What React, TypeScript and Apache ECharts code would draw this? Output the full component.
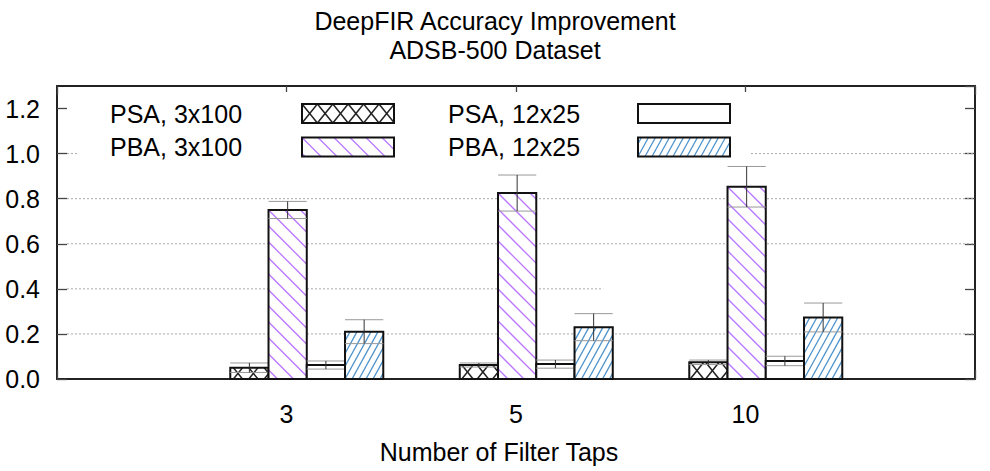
import React, { useEffect, useRef } from "react";
import * as echarts from "echarts";

// ---------- data ----------
const categories = ["3", "5", "10"];
const seriesNames = ["PSA, 3x100", "PBA, 3x100", "PSA, 12x25", "PBA, 12x25"];
const psa3x100 = [0.05, 0.062, 0.074];
const psa3x100Err = [0.021, 0.009, 0.01];
const pba3x100 = [0.75, 0.825, 0.853];
const pba3x100Err = [0.038, 0.08, 0.09];
const psa12x25 = [0.062, 0.066, 0.08];
const psa12x25Err = [0.018, 0.018, 0.021];
const pba12x25 = [0.21, 0.23, 0.273];
const pba12x25Err = [0.053, 0.06, 0.064];
const yTicks = [0, 0.2, 0.4, 0.6, 0.8, 1.0, 1.2];
const gridValues = [0.2, 0.4, 0.6, 0.8, 1.0];
const gridEnds = [3, 1.38, 3, 3, 3];

const values = [psa3x100, pba3x100, psa12x25, pba12x25];
const errors = [psa3x100Err, pba3x100Err, psa12x25Err, pba12x25Err];

// ---------- style ----------
const FONT = "'Liberation Sans', Arial, Helvetica, sans-serif";
const FS = 25;
const X_MIN = -1;
const X_MAX = 3;
const BAR_OFFSET = -0.245;
const BAR_W = 1 / 6;

type Pat = { kind: "cross" | "purple" | "none" | "blue" };
const patterns: Pat[] = [{ kind: "cross" }, { kind: "purple" }, { kind: "none" }, { kind: "blue" }];

function family(
  x: number, y: number, w: number, h: number,
  dx: number, dy: number, spacing: number,
  ax: number, ay: number, color: string, lw: number
) {
  const out: any[] = [];
  const corners = [[x, y], [x + w, y], [x, y + h], [x + w, y + h]];
  const xi = corners.map(([cx, cy]) => cx - ((cy - ay) * dx) / dy);
  const kMin = Math.floor((Math.min(...xi) - ax) / spacing) - 1;
  const kMax = Math.ceil((Math.max(...xi) - ax) / spacing) + 1;
  for (let k = kMin; k <= kMax; k++) {
    const x0 = ax + k * spacing;
    let tmin = -Infinity;
    let tmax = Infinity;
    if (dx !== 0) {
      const t1 = (x - x0) / dx;
      const t2 = (x + w - x0) / dx;
      tmin = Math.max(tmin, Math.min(t1, t2));
      tmax = Math.min(tmax, Math.max(t1, t2));
    } else if (x0 < x || x0 > x + w) continue;
    const t3 = (y - ay) / dy;
    const t4 = (y + h - ay) / dy;
    tmin = Math.max(tmin, Math.min(t3, t4));
    tmax = Math.min(tmax, Math.max(t3, t4));
    if (tmax - tmin <= 0.3) continue;
    out.push({
      type: "line",
      shape: { x1: x0 + tmin * dx, y1: ay + tmin * dy, x2: x0 + tmax * dx, y2: ay + tmax * dy },
      style: { stroke: color, lineWidth: lw },
      silent: true,
    });
  }
  return out;
}

function hatch(kind: string, x: number, y: number, w: number, h: number) {
  if (kind === "cross") {
    const s = 15.4;
    const ax = x + s / 2;
    const ay = y + h / 2;
    return [
      ...family(x, y, w, h, 0.81, 1, s, ax, ay, "#222", 1.5),
      ...family(x, y, w, h, -0.81, 1, s, ax, ay, "#222", 1.5),
    ];
  }
  if (kind === "purple") {
    return family(x, y, w, h, 1, 1, 16, x, y, "#bb77ff", 1.3);
  }
  if (kind === "blue") {
    return family(x, y, w, h, 0.55, -1, 7, x, y + h, "#4d93cc", 1.3);
  }
  return [];
}

function barSeries(j: number) {
  return {
    type: "custom",
    name: seriesNames[j],
    coordinateSystem: "cartesian2d",
    xAxisIndex: 0,
    yAxisIndex: 0,
    z: 5,
    encode: { x: 0, y: 1 },
    data: categories.map((_, i) => [i, values[j][i], errors[j][i]]),
    renderItem: (params: any, api: any) => {
      const i = api.value(0);
      const v = api.value(1);
      const e = api.value(2);
      const left = i + BAR_OFFSET + j * BAR_W;
      const p0 = api.coord([left, 0]);
      const p1 = api.coord([left + BAR_W, v]);
      const x = p0[0];
      const w = p1[0] - p0[0];
      const yTop = p1[1];
      const h = p0[1] - p1[1];
      const cx = x + w / 2;
      const ePlus = api.coord([left, v + e])[1];
      const eMinus = api.coord([left, Math.max(0, v - e)])[1];
      const children: any[] = [
        { type: "rect", shape: { x, y: yTop, width: w, height: h }, style: { fill: "#fff", stroke: null } },
        ...hatch(patterns[j].kind, x, yTop, w, h),
        { type: "rect", shape: { x, y: yTop, width: w, height: h }, style: { fill: "none", stroke: "#111", lineWidth: 2 } },
        { type: "line", shape: { x1: x, y1: ePlus, x2: x + w, y2: ePlus }, style: { stroke: "#999", lineWidth: 1 } },
        { type: "line", shape: { x1: x, y1: eMinus, x2: x + w, y2: eMinus }, style: { stroke: "#999", lineWidth: 1 } },
        { type: "line", shape: { x1: cx, y1: ePlus, x2: cx, y2: eMinus }, style: { stroke: "#333", lineWidth: 1 } },
      ];
      return { type: "group", children };
    },
  };
}

const gridSeries = {
  type: "custom",
  coordinateSystem: "cartesian2d",
  xAxisIndex: 0,
  yAxisIndex: 0,
  z: 1,
  silent: true,
  encode: { x: 1, y: 0 },
  data: gridValues.map((v, i) => [v, gridEnds[i]]),
  renderItem: (params: any, api: any) => {
    const v = api.value(0);
    const end = api.value(1);
    const a = api.coord([X_MIN, v]);
    const b = api.coord([end, v]);
    return {
      type: "line",
      shape: { x1: a[0] + 10, y1: a[1], x2: b[0], y2: b[1] },
      style: { stroke: "#a8a8a8", lineWidth: 1, lineDash: [2, 2] },
    };
  },
};

// legend layout (pixels)
const legendRows = [113.5, 147];
const legendTextX = [110, 448];
const legendSwatchX = [302, 638];
const SW_W = 92;
const SW_H = 19;

function legendGraphics() {
  const els: any[] = [
    { type: "rect", z: 3, shape: { x: 78, y: 92, width: 671, height: 73 }, style: { fill: "#fff" }, silent: true },
  ];
  const place = [
    [0, 0],
    [0, 1],
    [1, 0],
    [1, 1],
  ];
  seriesNames.forEach((name, j) => {
    const [c, r] = place[j];
    const cy = legendRows[r];
    els.push({
      type: "text",
      z: 4,
      x: legendTextX[c],
      y: cy,
      style: { text: name, fontFamily: FONT, fontSize: FS, fill: "#000", verticalAlign: "middle", align: "left" },
    });
    const sx = legendSwatchX[c];
    const sy = cy - SW_H / 2;
    els.push({ type: "rect", z: 4, shape: { x: sx, y: sy, width: SW_W, height: SW_H }, style: { fill: "#fff" } });
    hatch(patterns[j].kind, sx, sy, SW_W, SW_H).forEach((l) => els.push({ ...l, z: 4 }));
    els.push({
      type: "rect",
      z: 4,
      shape: { x: sx, y: sy, width: SW_W, height: SW_H },
      style: { fill: "none", stroke: "#111", lineWidth: 2 },
    });
  });
  els.push({
    type: "text",
    z: 4,
    x: 499,
    y: 452,
    style: { text: "Number of Filter Taps", fontFamily: FONT, fontSize: FS, fill: "#000", align: "center", verticalAlign: "middle" },
  });
  return els;
}

const axisLineStyle = { color: "#222", width: 2 };
const tickStyle = { color: "#444", width: 1.3 };

export default function App() {
  const ref = useRef<HTMLDivElement>(null);
  useEffect(() => {
    if (!ref.current) return;
    const chart = echarts.init(ref.current, null, { renderer: "svg" });
    const option: any = {
      animation: false,
      backgroundColor: "#fff",
      title: {
        text: "DeepFIR Accuracy Improvement\nADSB-500 Dataset",
        left: "center",
        top: 1,
        textStyle: { fontFamily: FONT, fontSize: FS, fontWeight: "normal", color: "#000", lineHeight: 29 },
      },
      grid: { left: 57, right: 15, top: 86, bottom: 92 },
      xAxis: [
        {
          type: "value",
          min: X_MIN,
          max: X_MAX,
          interval: 1,
          position: "bottom",
          axisLine: { show: true, onZero: false, lineStyle: axisLineStyle },
          axisTick: { show: true, inside: true, length: 9, lineStyle: tickStyle },
          splitLine: { show: false },
          axisLabel: {
            show: true,
            margin: 22,
            fontFamily: FONT,
            fontSize: FS,
            color: "#000",
            formatter: (v: number) => (v >= 0 && v < categories.length && Number.isInteger(v) ? categories[v] : ""),
          },
        },
        {
          type: "value",
          min: X_MIN,
          max: X_MAX,
          interval: 1,
          position: "top",
          axisLine: { show: true, onZero: false, lineStyle: axisLineStyle },
          axisTick: { show: true, inside: true, length: 9, lineStyle: tickStyle },
          splitLine: { show: false },
          axisLabel: { show: false },
        },
      ],
      yAxis: [
        {
          type: "value",
          min: 0,
          max: 1.3,
          interval: 0.2,
          position: "left",
          axisLine: { show: true, onZero: false, lineStyle: axisLineStyle },
          axisTick: { show: true, inside: true, length: 10, lineStyle: tickStyle },
          splitLine: { show: false },
          axisLabel: {
            margin: 17,
            fontFamily: FONT,
            fontSize: FS,
            color: "#000",
            showMaxLabel: false,
            formatter: (v: number) => {
              const t = yTicks.find((k) => Math.abs(k - v) < 1e-6);
              return t === undefined ? "" : t.toFixed(1);
            },
          },
        },
        {
          type: "value",
          min: 0,
          max: 1.3,
          interval: 0.2,
          position: "right",
          axisLine: { show: true, onZero: false, lineStyle: axisLineStyle },
          axisTick: { show: true, inside: true, length: 10, lineStyle: tickStyle },
          splitLine: { show: false },
          axisLabel: { show: false },
        },
      ],
      graphic: legendGraphics(),
      series: [gridSeries, barSeries(0), barSeries(1), barSeries(2), barSeries(3)],
    };
    chart.setOption(option);
    return () => chart.dispose();
  }, []);
  return (
    <div
      ref={ref}
      style={{ position: "absolute", left: 0, top: 0, width: 990, height: 471, background: "#fff" }}
    />
  );
}
